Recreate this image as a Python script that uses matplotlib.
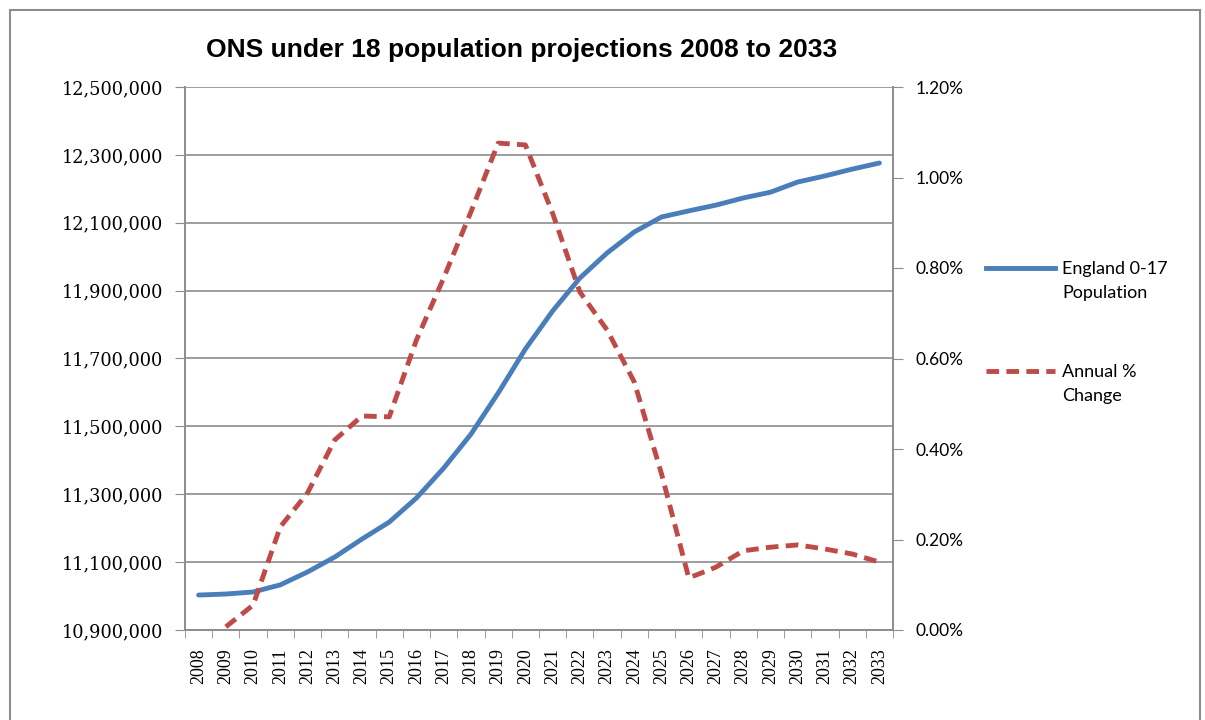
import matplotlib
matplotlib.use("Agg")
import matplotlib.pyplot as plt
from matplotlib.patches import Rectangle
from matplotlib.lines import Line2D
from matplotlib.ticker import FuncFormatter, FixedLocator

years = [str(y) for y in range(2008, 2034)]
population = [11003000, 11006000, 11012000, 11033000, 11071000, 11115000,
              11168000, 11218000, 11289000, 11377000, 11477000, 11598000,
              11728000, 11840000, 11937000, 12011000, 12073000, 12117000,
              12135000, 12152000, 12173000, 12190000, 12220000, 12238000,
              12258000, 12276000]
annual_change = [None, 0.007, 0.055, 0.228, 0.303, 0.420, 0.473, 0.471,
                 0.641, 0.778, 0.924, 1.076, 1.072, 0.921, 0.747, 0.663,
                 0.548, 0.345, 0.115, 0.139, 0.175, 0.183, 0.188, 0.179,
                 0.168, 0.150]
left_ticks = [10900000, 11100000, 11300000, 11500000, 11700000, 11900000,
              12100000, 12300000, 12500000]
right_ticks = [0.0, 0.2, 0.4, 0.6, 0.8, 1.0, 1.2]

BLUE = "#4A7EBB"
RED = "#BE4B48"
GRID = "#8C8C8C"

W, H = 1205, 720
fig = plt.figure(figsize=(W / 100, H / 100), dpi=100)

# chart frame
fig.patches.append(Rectangle((10 / W, -0.05), 1190 / W, 1.05 - 10 / H,
                             transform=fig.transFigure, fill=False,
                             edgecolor="#8C8C8C", linewidth=1.5))

ax = fig.add_axes([185 / W, 1 - 630 / H, (893 - 185) / W, (630 - 87) / H])
ax2 = ax.twinx()

x = list(range(len(years)))
ax.plot(x, population, color=BLUE, linewidth=3.5, solid_capstyle="round",
        solid_joinstyle="round", zorder=3)
xr = [i for i, v in zip(x, annual_change) if v is not None]
yr = [v for v in annual_change if v is not None]
ax2.plot(xr, yr, color=RED, linewidth=3.5, linestyle=(0, (2.6, 1.5)),
         dash_capstyle="butt", dash_joinstyle="round", zorder=3)

ax.set_xlim(-0.5, len(years) - 0.5)
ax.set_ylim(left_ticks[0], left_ticks[-1])
ax2.set_ylim(right_ticks[0], right_ticks[-1])

ax.set_yticks(left_ticks)
ax.yaxis.set_major_formatter(FuncFormatter(lambda v, p: f"{int(v):,}"))
ax2.set_yticks(right_ticks)
ax2.yaxis.set_major_formatter(FuncFormatter(lambda v, p: f"{v:.2f}%"))

ax.set_xticks(x)
ax.set_xticklabels(years, rotation=90, family="Liberation Serif", fontsize=13)
ax.xaxis.set_minor_locator(FixedLocator([i - 0.5 for i in range(len(years) + 1)]))
ax.tick_params(axis="x", which="major", length=0, pad=13)
ax.tick_params(axis="x", which="minor", length=6, color=GRID, direction="out")

for lab in ax.get_yticklabels():
    lab.set_family("DejaVu Serif")
    lab.set_fontsize(12.8)
ax.tick_params(axis="y", length=7, color=GRID, pad=9)
for lab in ax2.get_yticklabels():
    lab.set_family("Lato")
    lab.set_fontsize(12.5)
ax2.tick_params(axis="y", length=7, color=GRID, pad=9.5)

ax.grid(axis="y", color=GRID, linewidth=1.2)
ax.set_axisbelow(True)
for a in (ax, ax2):
    a.spines["top"].set_visible(False)
    for s in ("left", "right", "bottom"):
        a.spines[s].set_color(GRID)
        a.spines[s].set_linewidth(1.2)

fig.text(522 / W, 1 - 50 / H, "ONS under 18 population projections 2008 to 2033",
         ha="center", va="center", fontsize=19, fontweight="bold",
         family="Liberation Sans")

# legend
fig.add_artist(Line2D([986 / W, 1055 / W], [1 - 268 / H, 1 - 268 / H],
                      color=BLUE, linewidth=3.5, transform=fig.transFigure))
fig.add_artist(Line2D([986 / W, 1055 / W], [1 - 371 / H, 1 - 371 / H],
                      color=RED, linewidth=3.5, linestyle=(0, (2.6, 1.5)),
                      transform=fig.transFigure))
fig.text(1062 / W, 1 - 281 / H, "England 0-17\nPopulation", ha="left",
         va="center", fontsize=13, family="Lato", linespacing=1.6)
fig.text(1062 / W, 1 - 384 / H, "Annual %\nChange", ha="left",
         va="center", fontsize=13, family="Lato", linespacing=1.6)

fig.savefig("out.png", dpi=100)
